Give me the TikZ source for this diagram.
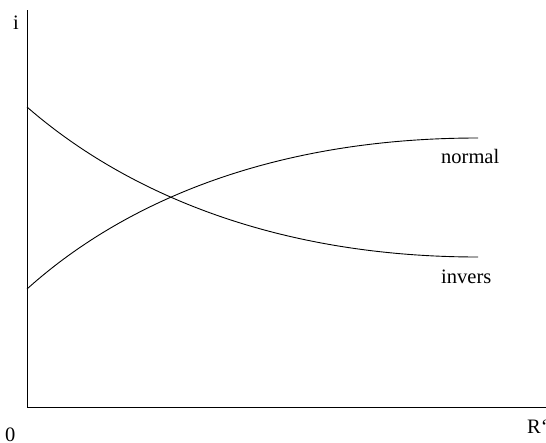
\documentclass[tikz,border=0pt]{standalone}
\usepackage{fontspec}
\setmainfont{Liberation Serif}
\begin{document}
\begin{tikzpicture}[x=1pt,y=-1pt,
  lbl/.style={font=\fontsize{20.5}{24}\selectfont, inner sep=0pt, anchor=base west},
  ax/.style={line width=1pt},
  crv/.style={line width=0.9pt}]
\useasboundingbox (0,0) rectangle (546,442);
\coordinate (top) at (27,10);
\coordinate (o) at (27,407);
\coordinate (right) at (546,407);
\draw[ax] (top) -- (o) -- (right);
% curves
\coordinate (n0) at (27,289);
\coordinate (n1) at (478,138);
\coordinate (i0) at (27,107);
\coordinate (i1) at (478,257);
\draw[crv] (n0) .. controls (127,199) and (278,138) .. (n1);
\draw[crv] (i0) .. controls (127,194) and (278,257) .. (i1);
% labels
\node[lbl] (ilbl) at (13,29) {i};
\node[lbl] (zero) at (5,441) {0};
\node[lbl] (rlbl) at (527,433) {R‘};
\node[lbl] (normal) at (441,163) {normal};
\node[lbl] (invers) at (441,283) {invers};
\end{tikzpicture}
\end{document}
